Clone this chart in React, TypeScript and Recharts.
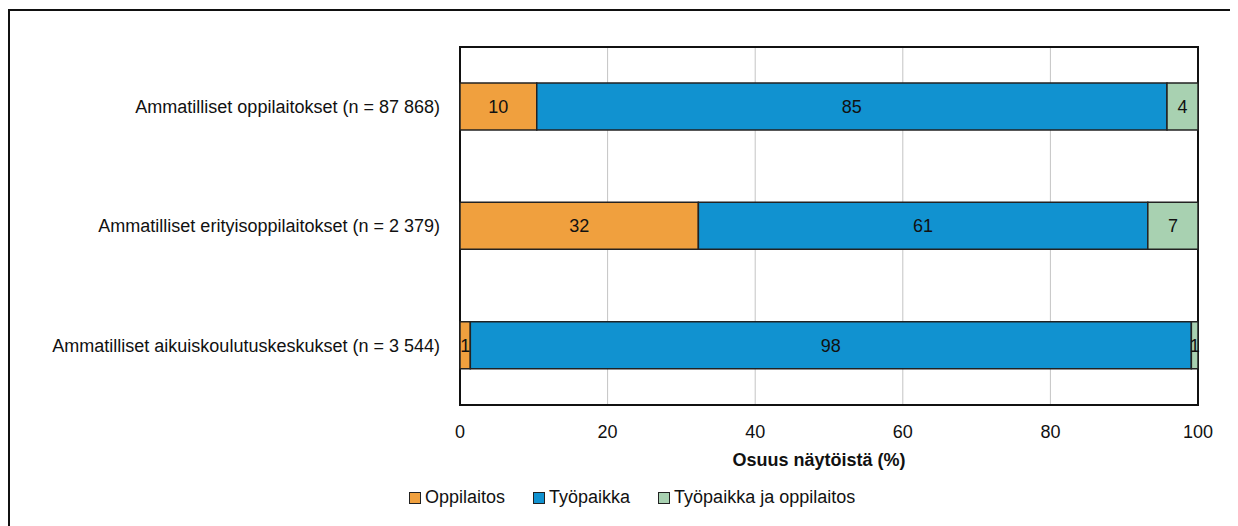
import { Bar, BarChart, CartesianGrid, LabelList, ReferenceArea, XAxis, YAxis } from "recharts";

// Share of vocational demonstrations by place, per institution type (%).
const categories = [
  "Ammatilliset oppilaitokset (n = 87 868)",
  "Ammatilliset erityisoppilaitokset (n = 2 379)",
  "Ammatilliset aikuiskoulutuskeskukset (n = 3 544)",
];
const oppilaitos = [10.4, 32.3, 1.4];
const tyopaikka = [85.4, 60.9, 97.7];
const molemmat = [4.2, 6.8, 0.9];
const xTicks = [0, 20, 40, 60, 80, 100];

const SERIES = [
  { key: "oppilaitos", name: "Oppilaitos", color: "#F0A03E" },
  { key: "tyopaikka", name: "Työpaikka", color: "#1192D0" },
  { key: "molemmat", name: "Työpaikka ja oppilaitos", color: "#A8D1B1" },
];

const FONT = '"Liberation Sans", Arial, sans-serif';
const FS = 18;

const rows = categories.map((name, i) => ({
  name,
  oppilaitos: oppilaitos[i],
  tyopaikka: tyopaikka[i],
  molemmat: molemmat[i],
}));

export default function App() {
  return (
    <div
      style={{
        position: "fixed",
        left: 0,
        top: 0,
        width: 1238,
        height: 526,
        overflow: "hidden",
        background: "#fff",
        fontFamily: FONT,
      }}
    >
      {/* frame edges of the figure (left + top only are in view) */}
      <div
        style={{
          position: "absolute",
          boxSizing: "border-box",
          left: 8,
          top: 9,
          width: 1222,
          height: 517,
          borderLeft: "2px solid #111",
          borderTop: "2px solid #111",
        }}
      />
      <BarChart
        width={1238}
        height={526}
        data={rows}
        layout="vertical"
        margin={{ top: 47, right: 40, left: 0, bottom: 51 }}
        barSize={47}
        style={{ position: "absolute", left: 0, top: 0, fontFamily: FONT }}
      >
        <CartesianGrid horizontal={false} stroke="#c4c4c4" strokeWidth={1} />
        <XAxis
          type="number"
          domain={[0, 100]}
          ticks={xTicks}
          height={70}
          axisLine={false}
          tickLine={false}
          tickSize={6}
          tickMargin={14}
          tick={{ fontSize: FS, fill: "#111" }}
          label={{
            value: "Osuus näytöistä (%)",
            position: "insideBottom",
            offset: 9,
            dx: -10,
            fontSize: FS,
            fontWeight: "bold",
            fill: "#111",
          }}
        />
        <YAxis
          type="category"
          dataKey="name"
          width={460}
          axisLine={false}
          tickLine={false}
          tickSize={6}
          tickMargin={14}
          tick={{ fontSize: FS, fill: "#111" }}
        />
        {SERIES.map((s) => (
          <Bar
            key={s.key}
            dataKey={s.key}
            name={s.name}
            stackId="a"
            fill={s.color}
            stroke="#222"
            strokeWidth={1.5}
            isAnimationActive={false}
          >
            <LabelList
              dataKey={s.key}
              position="center"
              formatter={(v: number) => Math.round(v)}
              style={{ fontSize: FS, fill: "#111", fontFamily: FONT }}
            />
          </Bar>
        ))}
        <ReferenceArea
          x1={0}
          x2={100}
          fill="none"
          stroke="#111"
          strokeWidth={2}
          ifOverflow="visible"
        />
      </BarChart>
      {/* legend */}
      <div
        style={{
          position: "absolute",
          left: 409,
          top: 487,
          display: "flex",
          alignItems: "center",
          fontSize: FS,
          color: "#111",
          whiteSpace: "nowrap",
        }}
      >
        {SERIES.map((s, i) => (
          <div
            key={s.key}
            style={{ display: "flex", alignItems: "center", marginRight: i < 2 ? 28 : 0 }}
          >
            <span
              style={{
                display: "inline-block",
                width: 10,
                height: 10,
                background: s.color,
                border: "1px solid #222",
                marginRight: 4,
              }}
            />
            <span>{s.name}</span>
          </div>
        ))}
      </div>
    </div>
  );
}
